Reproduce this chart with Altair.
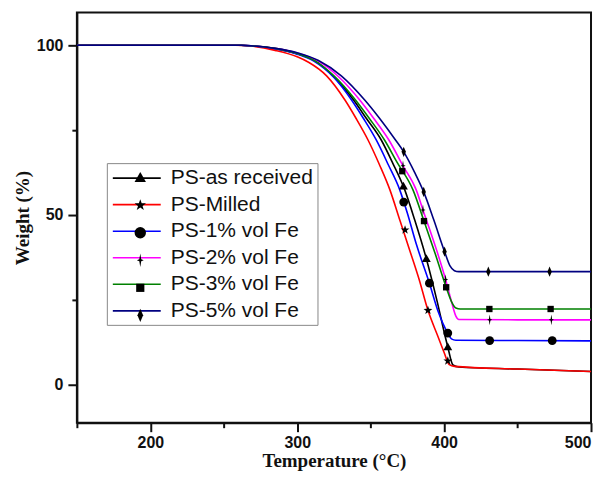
import altair as alt
import pandas as pd

series_names = ["PS-as received", "PS-Milled", "PS-1% vol Fe",
                "PS-2% vol Fe", "PS-3% vol Fe", "PS-5% vol Fe"]
series_colors = ["#000000", "#ff0000", "#0000ff", "#ff00ff", "#008000", "#000080"]
marker_keys = ["m0", "m1", "m2", "m3", "m4", "m5"]

# ---- curve data (temperature °C, weight %) ----
t_as_received = [150, 260, 270, 285, 300, 311.5, 325, 338.5, 347, 357.2, 365, 373.2, 380, 387.9, 395, 402.5, 406, 410, 450, 500]
w_as_received = [100, 100, 99.8, 99.0, 97.5, 95.6, 90.7, 83.8, 78.5, 72.1, 65.3, 57.4, 48.5, 37.1, 25.0, 11.1, 5.8, 5.2, 4.6, 3.9]

t_milled = [150, 258, 270, 285, 300, 307.7, 320, 332.6, 340, 348.2, 356, 363.1, 370, 376.5, 383, 389, 396, 400, 403.5, 407, 450, 500]
w_milled = [100, 100, 99.7, 98.5, 96.6, 95.0, 91.0, 83.8, 78.5, 72.1, 64.8, 57.4, 48.3, 39.7, 31.0, 21.9, 14.0, 9.5, 5.9, 5.4, 4.6, 3.9]

t_fe1 = [150, 262, 270, 285, 300, 311, 325, 337.1, 345, 353.8, 362, 369.8, 375, 381, 390, 396, 402.5, 405, 408, 450, 500]
w_fe1 = [100, 100, 99.8, 99.0, 97.4, 95.4, 90.5, 83.8, 78.5, 72.1, 64.8, 57.4, 50.5, 41.5, 29.9, 21.5, 15.2, 13.5, 13.1, 13.0, 12.9]

t_fe2 = [150, 262, 270, 285, 300, 314, 328, 342.7, 352, 362.4, 372, 381, 385.6, 395, 401, 405, 408, 410, 450, 500]
w_fe2 = [100, 100, 99.8, 99.1, 97.7, 95.4, 90.8, 83.8, 78.5, 72.1, 64.5, 57.4, 51.5, 39.5, 31.0, 24.5, 20.2, 19.2, 19.1, 19.1]

t_fe3 = [150, 262, 270, 285, 300, 312, 325, 339.8, 349, 359.4, 368, 378.8, 386.3, 394, 401.4, 405, 408, 411, 450, 500]
w_fe3 = [100, 100, 99.8, 99.1, 97.6, 95.4, 91.0, 83.8, 78.5, 72.1, 65.5, 57.4, 48.2, 38.5, 28.7, 24.5, 22.6, 22.3, 22.3, 22.3]

t_fe5 = [150, 262, 270, 285, 300, 314.5, 330, 346.1, 356, 366.9, 372.5, 380, 386.1, 393, 400.3, 404, 407, 410, 450, 500]
w_fe5 = [100, 100, 99.8, 99.1, 97.8, 95.5, 91.0, 83.8, 78.5, 72.1, 68.6, 62.5, 56.8, 48.5, 39.2, 35.0, 33.6, 33.3, 33.3, 33.3]

# ---- marker positions ----
mt_as_received = [372.3, 387.9, 402.5]
mw_as_received = [58.5, 37.1, 11.1]
mt_milled = [373.4, 389, 402.5]
mw_milled = [45.6, 21.9, 7.0]
mt_fe1 = [372.5, 390, 402.5, 431, 473.6]
mw_fe1 = [53.8, 29.9, 15.2, 13.0, 13.0]
mt_fe2 = [372, 385.6, 401, 431, 473]
mw_fe2 = [64.5, 51.5, 31.0, 19.1, 19.1]
mt_fe3 = [371.5, 386.3, 401.4, 430.8, 472.5]
mw_fe3 = [62.9, 48.2, 28.7, 22.3, 22.3]
mt_fe5 = [372.5, 386.1, 400.3, 430.1, 471.8]
mw_fe5 = [68.6, 56.8, 39.2, 33.3, 33.3]

curves = [(t_as_received, w_as_received), (t_milled, w_milled), (t_fe1, w_fe1),
          (t_fe2, w_fe2), (t_fe3, w_fe3), (t_fe5, w_fe5)]
marks = [(mt_as_received, mw_as_received), (mt_milled, mw_milled), (mt_fe1, mw_fe1),
         (mt_fe2, mw_fe2), (mt_fe3, mw_fe3), (mt_fe5, mw_fe5)]

line_rows = []
for name, (ts, ws) in zip(series_names, curves):
    for i, (t, w) in enumerate(zip(ts, ws)):
        line_rows.append({"series": name, "T": t, "W": w, "order": i})
line_df = pd.DataFrame(line_rows)

mark_rows = []
for key, (ts, ws) in zip(marker_keys, marks):
    for t, w in zip(ts, ws):
        mark_rows.append({"series_m": key, "T": t, "W": w})
mark_df = pd.DataFrame(mark_rows)

STAR = "M0,-1.05L0.25,-0.34L1,-0.32L0.4,0.13L0.62,0.85L0,0.42L-0.62,0.85L-0.4,0.13L-1,-0.32L-0.25,-0.34Z"
SPARKLE = "M0,-1.2L0.17,-0.17L0.6,0L0.17,0.17L0,1.2L-0.17,0.17L-0.6,0L-0.17,-0.17Z"
THIN_DIAMOND = "M0,-1.15L0.5,0L0,1.15L-0.5,0Z"
SMALL_SQUARE = "M-0.72,-0.72H0.72V0.72H-0.72Z"
TRIANGLE = "M0,-1L1,0.75H-1Z"
shape_range = [TRIANGLE, STAR, "circle", SPARKLE, SMALL_SQUARE, THIN_DIAMOND]

x_scale = alt.Scale(domain=[150, 500], nice=False, zero=False)
y_scale = alt.Scale(domain=[-11.2, 109.7], nice=False, zero=False)

x_axis = alt.Axis(
    title="Temperature (°C)",
    values=[150, 200, 250, 300, 350, 400, 450, 500],
    labelExpr="datum.value % 100 === 0 ? datum.label : ''",
    tickSize={"condition": {"test": "datum.value % 100 === 0", "value": 9}, "value": 5},
    grid=False, labelFont="Liberation Sans", labelFontWeight="bold", labelFontSize=16,
    labelColor="#111", titleFont="Liberation Serif", titleFontWeight="bold", titleFontSize=19,
    titleColor="#111", domainColor="#111", domainWidth=2, tickColor="#111", tickWidth=2,
    labelPadding=3, titlePadding=1, labelFlush=True, labelOverlap=False,
)
y_axis = alt.Axis(
    title="Weight (%)",
    values=[0, 25, 50, 75, 100],
    labelExpr="datum.value % 50 === 0 ? datum.label : ''",
    tickSize={"condition": {"test": "datum.value % 50 === 0", "value": 9}, "value": 5},
    grid=False, labelFont="Liberation Sans", labelFontWeight="bold", labelFontSize=16,
    labelColor="#111", titleFont="Liberation Serif", titleFontWeight="bold", titleFontSize=19,
    titleColor="#111", domainColor="#111", domainWidth=2, tickColor="#111", tickWidth=2,
    labelPadding=5, titlePadding=4, labelFlush=False, labelOverlap=False,
)

lines = alt.Chart(line_df).mark_line(strokeWidth=1.6, interpolate="monotone", clip=True).encode(
    x=alt.X("T:Q", scale=x_scale, axis=x_axis),
    y=alt.Y("W:Q", scale=y_scale, axis=y_axis),
    color=alt.Color("series:N", scale=alt.Scale(domain=series_names, range=series_colors),
                    legend=alt.Legend(
                        title=None, orient="none", legendX=30, legendY=151, padding=4,
                        symbolType="M-2.4,0H2.4", symbolSize=400, symbolStrokeWidth=1.6,
                        symbolOffset=15, labelOffset=23, rowPadding=5.6,
                        labelFont="Liberation Sans", labelFontSize=21, labelColor="#111",
                        strokeColor="#888", labelLimit=400,
                    )),
    order="order:Q",
)

points = alt.Chart(mark_df).mark_point(filled=True, color="black", opacity=1, size=78).encode(
    x=alt.X("T:Q", scale=x_scale),
    y=alt.Y("W:Q", scale=y_scale),
    shape=alt.Shape("series_m:N", scale=alt.Scale(domain=marker_keys, range=shape_range),
                    legend=alt.Legend(
                        title=None, orient="none", legendX=30, legendY=151, padding=4,
                        symbolSize=130, symbolFillColor="black", symbolStrokeColor="black",
                        symbolStrokeWidth=0, symbolOffset=19, rowPadding=5.6,
                        labelFont="Liberation Sans", labelFontSize=21, labelOpacity=0,
                        labelExpr="' '", labelLimit=400,
                    )),
)

chart = alt.layer(lines, points).properties(
    width=515, height=411,
    autosize=alt.AutoSizeParams(type="none"),
    padding={"left": 69, "top": 4, "right": 8, "bottom": 50},
    background="white",
).configure_view(stroke="#111", strokeWidth=2)

chart.save("out.html", embed_options={"renderer": "svg", "actions": False})
